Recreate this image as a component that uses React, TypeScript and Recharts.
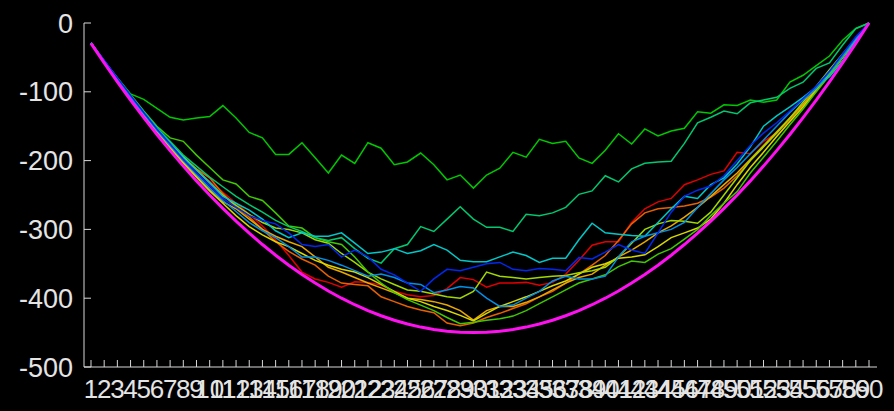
import { LineChart, Line, XAxis, YAxis } from 'recharts'

// x categories: step 1..60
const steps = [
  '1', '2', '3', '4', '5', '6', '7', '8', '9', '10',
  '11', '12', '13', '14', '15', '16', '17', '18', '19', '20',
  '21', '22', '23', '24', '25', '26', '27', '28', '29', '30',
  '31', '32', '33', '34', '35', '36', '37', '38', '39', '40',
  '41', '42', '43', '44', '45', '46', '47', '48', '49', '50',
  '51', '52', '53', '54', '55', '56', '57', '58', '59', '60',
]

const yTicks = [-500, -400, -300, -200, -100, 0]

// expected path (thick magenta curve)
const expected = [
  -29.5, -58, -85.5, -112, -137.5, -162, -185.5, -208, -229.5, -250,
  -269.5, -288, -305.5, -322, -337.5, -352, -365.5, -378, -389.5, -400,
  -409.5, -418, -425.5, -432, -437.5, -442, -445.5, -448, -449.5, -450,
  -449.5, -448, -445.5, -442, -437.5, -432, -425.5, -418, -409.5, -400,
  -389.5, -378, -365.5, -352, -337.5, -322, -305.5, -288, -269.5, -250,
  -229.5, -208, -185.5, -162, -137.5, -112, -85.5, -58, -29.5, 0,
]

const red = [
  -29, -56, -82, -107, -131, -155, -176, -196, -214, -230,
  -246, -262, -278, -295, -315, -338, -362, -372, -377, -384,
  -376, -377, -381, -390, -395, -398, -396, -386, -370, -373,
  -384, -378, -378, -377, -381, -377, -365, -345, -323, -318,
  -318, -290, -270, -260, -255, -235, -228, -220, -215, -188,
  -190, -172, -160, -140, -120, -100, -76, -50, -24, 0,
]

const orange = [
  -29, -56, -83, -108, -132, -155, -176, -196, -212, -225,
  -248, -268, -282, -300, -318, -332, -343, -352, -368, -378,
  -380, -382, -398, -405, -412, -417, -421, -436, -440, -436,
  -428, -422, -415, -408, -398, -390, -378, -365, -352, -338,
  -316, -292, -276, -270, -268, -266, -262, -253, -240, -222,
  -200, -180, -160, -140, -120, -98, -75, -50, -24, 0,
]

const amber = [
  -29, -57, -84, -109, -134, -158, -180, -202, -222, -242,
  -260, -270, -285, -300, -310, -318, -325, -340, -355, -362,
  -370, -378, -385, -392, -400, -402, -405, -410, -418, -432,
  -418, -412, -412, -406, -398, -388, -378, -370, -365, -352,
  -340, -330, -318, -305, -295, -282, -268, -252, -235, -218,
  -198, -178, -158, -138, -118, -96, -74, -50, -24, 0,
]

const yellow = [
  -29, -57, -84, -110, -135, -159, -182, -204, -224, -244,
  -262, -280, -296, -308, -318, -325, -335, -345, -352, -358,
  -362, -370, -380, -390, -400, -405, -412, -418, -425, -433,
  -422, -412, -405, -398, -390, -382, -375, -365, -355, -350,
  -342, -340, -337, -325, -312, -305, -298, -285, -262, -235,
  -210, -188, -165, -143, -122, -98, -75, -50, -24, 0,
]

const lime = [
  -29, -56, -82, -107, -131, -154, -174, -194, -213, -232,
  -250, -265, -278, -290, -298, -300, -305, -315, -320, -335,
  -348, -362, -372, -380, -388, -390, -394, -398, -400, -390,
  -362, -368, -370, -372, -370, -368, -367, -363, -360, -355,
  -340, -320, -300, -292, -287, -288, -291, -275, -250, -225,
  -200, -180, -160, -138, -115, -92, -68, -45, -22, 0,
]

const chartreuse = [
  -29, -55, -80, -104, -128, -150, -167, -172, -192, -210,
  -228, -234, -252, -258, -276, -295, -298, -312, -318, -322,
  -340, -362, -378, -392, -402, -410, -418, -428, -437, -435,
  -432, -430, -426, -418, -408, -398, -388, -378, -372, -366,
  -354, -346, -348, -336, -328, -314, -300, -280, -262, -245,
  -218, -195, -172, -148, -125, -100, -76, -50, -24, 0,
]

const green = [
  -29, -55, -80, -103, -111, -124, -137, -141, -138, -136,
  -120, -138, -159, -167, -191, -191, -174, -196, -218, -192,
  -204, -174, -182, -206, -202, -189, -206, -228, -221, -240,
  -221, -211, -188, -195, -169, -175, -172, -196, -204, -185,
  -161, -176, -154, -164, -157, -153, -129, -131, -119, -120,
  -112, -115, -112, -86, -76, -62, -48, -25, -8, 0,
]

const springGreen = [
  -29, -56, -82, -106, -129, -152, -172, -192, -208, -224,
  -238, -252, -264, -275, -287, -296, -303, -312, -316, -312,
  -328, -342, -349, -328, -322, -296, -303, -285, -267, -285,
  -297, -297, -303, -278, -280, -276, -268, -249, -244, -222,
  -231, -212, -204, -202, -201, -175, -145, -137, -128, -132,
  -116, -112, -108, -95, -86, -66, -58, -32, -8, 0,
]

const cyan = [
  -29, -55, -81, -106, -130, -153, -175, -196, -214, -232,
  -252, -262, -272, -285, -302, -312, -305, -310, -310, -305,
  -320, -335, -333, -328, -335, -331, -322, -330, -345, -347,
  -347, -340, -333, -338, -348, -342, -342, -315, -291, -305,
  -307, -309, -310, -290, -270, -252, -255, -235, -225, -205,
  -180, -150, -135, -122, -108, -93, -78, -55, -25, 0,
]

const azure = [
  -29, -56, -83, -108, -132, -156, -178, -200, -220, -240,
  -258, -274, -290, -302, -312, -325, -340, -340, -345, -352,
  -360, -368, -365, -370, -378, -380, -392, -388, -383, -385,
  -400, -412, -410, -400, -390, -375, -368, -372, -372, -368,
  -340, -318, -310, -305, -300, -290, -268, -248, -228, -210,
  -190, -170, -150, -130, -112, -95, -72, -48, -22, 0,
]

const blue = [
  -29, -54, -80, -105, -130, -154, -176, -198, -218, -236,
  -255, -268, -280, -287, -292, -305, -322, -325, -322, -340,
  -330, -340, -358, -366, -378, -390, -372, -358, -360, -355,
  -350, -348, -358, -360, -357, -358, -360, -341, -343, -333,
  -322, -330, -335, -305, -275, -252, -243, -237, -222, -200,
  -178, -160, -145, -128, -110, -92, -70, -45, -20, 0,
]

const series = [
  { key: 'red', color: '#e00000', values: red },
  { key: 'orange', color: '#e86000', values: orange },
  { key: 'amber', color: '#e8a800', values: amber },
  { key: 'yellow', color: '#d8d800', values: yellow },
  { key: 'lime', color: '#a0d800', values: lime },
  { key: 'chartreuse', color: '#40c800', values: chartreuse },
  { key: 'green', color: '#00c800', values: green },
  { key: 'springGreen', color: '#00c870', values: springGreen },
  { key: 'cyan', color: '#00c8c8', values: cyan },
  { key: 'azure', color: '#0090e8', values: azure },
  { key: 'blue', color: '#0028f0', values: blue },
]

const rows = steps.map((step, i) => {
  const row: Record<string, number | string> = { step, expected: expected[i] }
  series.forEach(s => { row[s.key] = s.values[i] })
  return row
})

const axisColor = '#d8d8d8'
const tickStyle = { fill: '#e4e4e4', fontFamily: '"Liberation Sans", Arial, sans-serif' }

export default function App() {
  return (
    <div style={{ position: 'absolute', left: 0, top: 0, width: 894, height: 411, background: '#000' }}>
      <LineChart width={894} height={411} data={rows} margin={{ top: 23, right: 17, bottom: 0, left: 0 }}>
        <XAxis
          dataKey="step"
          interval={0}
          height={44}
          padding={{ left: 7, right: 8 }}
          tickSize={-7}
          tickMargin={20}
          stroke={axisColor}
          tick={{ ...tickStyle, fontSize: 26 }}
        />
        <YAxis
          type="number"
          domain={[-500, 0]}
          ticks={yTicks}
          width={84}
          tickSize={-7}
          tickMargin={18}
          stroke={axisColor}
          tick={{ ...tickStyle, fontSize: 27 }}
        />
        {series.map(s => (
          <Line
            key={s.key}
            dataKey={s.key}
            type="linear"
            stroke={s.color}
            strokeWidth={1.5}
            dot={false}
            isAnimationActive={false}
          />
        ))}
        <Line
          dataKey="expected"
          type="linear"
          stroke="#ff10f0"
          strokeWidth={3}
          dot={false}
          isAnimationActive={false}
        />
      </LineChart>
    </div>
  )
}
